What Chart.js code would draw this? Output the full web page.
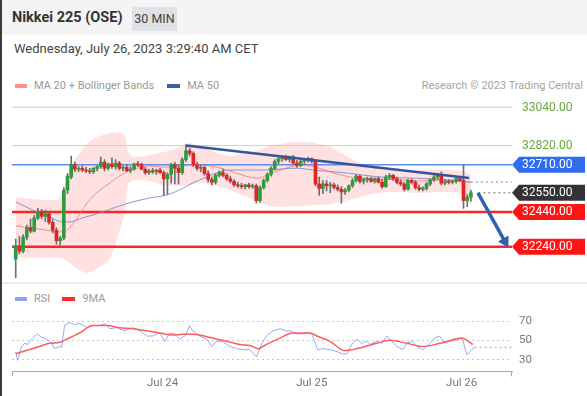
<!DOCTYPE html>
<html>
<head>
<meta charset="utf-8">
<title>Nikkei 225 (OSE)</title>
<script src="https://cdn.jsdelivr.net/npm/chart.js@4/dist/chart.umd.min.js"></script>
<style>
  html, body { margin: 0; padding: 0; background: #fff; }
  body { width: 587px; height: 396px; position: relative; overflow: hidden; font-family: Roboto, "Open Sans", sans-serif; }
  #frame { position: absolute; left: 0; top: 0; width: 2px; height: 396px; background: #3c3c3c; z-index: 3; }
  #head { position: absolute; left: 0; top: 0; width: 587px; height: 35px; background: #f4f4f4; }
  #title { position: absolute; left: 12px; top: 10px; font-size: 14.5px; line-height: 16px; font-weight: bold; color: #333; }
  #badge { position: absolute; left: 132px; top: 7px; width: 45px; height: 24px; line-height: 24px; background: #dfe2e6; color: #444; font-size: 12.5px; text-align: center; }
  #stamp { position: absolute; left: 14px; top: 41px; font-size: 13px; line-height: 16px; color: #444; }
  .legend { position: absolute; height: 12px; line-height: 12px; font-size: 11px; color: #9a9a9a; display: flex; align-items: center; white-space: nowrap; }
  .sw { display: inline-block; width: 12px; height: 4px; margin-right: 7px; }
  #credit { position: absolute; right: 4px; top: 80px; font-size: 11px; line-height: 12px; color: #a4a4a4; }
  #sep { position: absolute; left: 0; top: 282px; width: 587px; height: 2px; background: #e7ecef; }
  canvas { position: absolute; left: 0; }
  #priceChart { top: 90px; }
  #rsiChart { top: 283px; }
</style>
</head>
<body>
<div id="frame"></div>
<div id="head"><span id="title">Nikkei 225 (OSE)</span><span id="badge">30 MIN</span></div>
<div id="stamp">Wednesday, July 26, 2023 3:29:40 AM CET</div>
<div class="legend" style="left:15px;top:80px"><i class="sw" style="background:#ff8f8f"></i>MA 20 + Bollinger Bands<i class="sw" style="background:#3d5fa8;width:13px;margin-left:13px"></i>MA 50</div>
<div id="credit">Research © 2023 Trading Central</div>
<canvas id="priceChart" width="587" height="193"></canvas>
<div id="sep"></div>
<div class="legend" style="left:15px;top:293px"><i class="sw" style="background:#8aa6ee"></i>RSI<i class="sw" style="background:#ff2a2a;width:13px;margin-left:12px"></i>9MA</div>
<canvas id="rsiChart" width="587" height="113"></canvas>

<script>
// 30 min bars, index 0 = first bar on the left
const opens = [
  32170, 32245, 32215, 32295, 32350, 32330, 32405, 32440, 32415, 32430,
  32380, 32335, 32275, 32290, 32565, 32640, 32710, 32685, 32690, 32680,
  32675, 32670, 32690, 32700, 32725, 32690, 32715, 32700, 32720, 32690,
  32695, 32675, 32685, 32715, 32710, 32685, 32665, 32675, 32670, 32680,
  32665, 32630, 32655, 32710, 32690, 32665, 32740, 32790, 32775, 32710,
  32690, 32695, 32660, 32625, 32610, 32650, 32665, 32650, 32630, 32615,
  32595, 32590, 32585, 32595, 32585, 32590, 32505, 32580, 32620, 32655,
  32690, 32730, 32745, 32750, 32740, 32755, 32720, 32705, 32730, 32740,
  32745, 32730, 32600, 32575, 32600, 32590, 32595, 32580, 32570, 32555,
  32565, 32590, 32620, 32645, 32615, 32625, 32630, 32615, 32630, 32610,
  32585, 32640, 32650, 32630, 32610, 32600, 32570, 32620, 32610, 32580,
  32570, 32575, 32600, 32625, 32640, 32655, 32605, 32615, 32610, 32615,
  32630, 32620, 32505, 32525
];
const highs = [
  32285, 32300, 32310, 32365, 32400, 32420, 32460, 32455, 32450, 32440,
  32395, 32350, 32300, 32580, 32660, 32760, 32725, 32700, 32705, 32695,
  32690, 32695, 32705, 32755, 32740, 32720, 32750, 32740, 32730, 32705,
  32710, 32700, 32720, 32730, 32720, 32695, 32685, 32690, 32685, 32690,
  32675, 32665, 32720, 32725, 32710, 32750, 32825, 32805, 32785, 32725,
  32710, 32705, 32675, 32640, 32660, 32675, 32685, 32660, 32645, 32625,
  32610, 32605, 32600, 32605, 32600, 32600, 32590, 32630, 32665, 32700,
  32740, 32755, 32760, 32765, 32760, 32765, 32735, 32740, 32745, 32755,
  32750, 32735, 32640, 32620, 32620, 32610, 32605, 32595, 32585, 32575,
  32595, 32630, 32655, 32650, 32635, 32640, 32640, 32635, 32640, 32625,
  32650, 32660, 32655, 32640, 32625, 32610, 32630, 32630, 32620, 32595,
  32585, 32610, 32630, 32650, 32660, 32670, 32625, 32625, 32620, 32640,
  32640, 32710, 32540, 32565
];
const lows = [
  32063, 32200, 32205, 32280, 32320, 32325, 32395, 32400, 32385, 32370,
  32320, 32255, 32250, 32280, 32545, 32630, 32670, 32670, 32670, 32665,
  32660, 32660, 32675, 32690, 32675, 32680, 32690, 32685, 32680, 32675,
  32670, 32665, 32680, 32700, 32680, 32655, 32655, 32660, 32655, 32660,
  32535, 32540, 32605, 32600, 32600, 32655, 32730, 32760, 32700, 32680,
  32670, 32650, 32610, 32595, 32600, 32640, 32640, 32620, 32605, 32585,
  32580, 32575, 32570, 32575, 32575, 32490, 32495, 32570, 32610, 32645,
  32680, 32715, 32730, 32735, 32725, 32710, 32695, 32700, 32715, 32725,
  32720, 32590, 32535, 32545, 32560, 32550, 32570, 32560, 32490, 32540,
  32555, 32580, 32610, 32605, 32600, 32610, 32610, 32605, 32605, 32575,
  32580, 32625, 32620, 32600, 32590, 32560, 32565, 32600, 32570, 32560,
  32560, 32565, 32590, 32615, 32630, 32595, 32595, 32600, 32600, 32605,
  32615, 32460, 32470, 32500
];
const closes = [
  32245, 32215, 32295, 32350, 32330, 32405, 32440, 32415, 32430, 32380,
  32335, 32275, 32290, 32565, 32645, 32710, 32685, 32690, 32680, 32675,
  32670, 32690, 32700, 32725, 32690, 32715, 32700, 32720, 32690, 32695,
  32675, 32685, 32715, 32710, 32685, 32665, 32675, 32670, 32680, 32665,
  32630, 32655, 32710, 32690, 32665, 32740, 32790, 32775, 32710, 32690,
  32695, 32660, 32625, 32610, 32650, 32665, 32650, 32630, 32615, 32595,
  32590, 32585, 32595, 32585, 32590, 32505, 32580, 32620, 32655, 32690,
  32730, 32745, 32750, 32740, 32755, 32720, 32705, 32730, 32740, 32745,
  32730, 32600, 32575, 32600, 32590, 32595, 32580, 32570, 32555, 32565,
  32590, 32620, 32645, 32615, 32625, 32630, 32615, 32630, 32610, 32585,
  32640, 32650, 32630, 32610, 32600, 32570, 32620, 32610, 32580, 32570,
  32575, 32600, 32625, 32640, 32655, 32605, 32615, 32610, 32615, 32630,
  32620, 32505, 32525, 32550
];

// MA 20 + Bollinger Bands, read at these bar positions
const bandX = [0, 4, 8, 11, 13, 14.5, 17, 19.5, 22.5, 25.5, 28, 29.5, 30.5, 33, 36, 40, 44, 47, 50, 54,
  58, 62, 65.5, 68.5, 73, 77, 81, 85, 89, 93, 98, 104, 109, 115, 120, 123];
const bandUpper = [32526, 32514, 32509, 32509, 32566, 32680, 32771, 32834, 32874, 32891, 32897, 32874, 32783, 32754, 32766, 32783, 32806, 32834, 32817, 32783,
  32760, 32783, 32794, 32817, 32834, 32840, 32834, 32811, 32766, 32720, 32691, 32680, 32680, 32680, 32674, 32657];
const bandMid = [32360, 32349, 32337, 32326, 32326, 32349, 32417, 32497, 32560, 32606, 32646, 32663, 32680, 32691, 32703, 32697, 32697, 32709, 32709, 32697,
  32674, 32646, 32634, 32657, 32691, 32709, 32697, 32669, 32646, 32634, 32629, 32623, 32617, 32623, 32623, 32606];
const bandLower = [32183, 32177, 32177, 32177, 32171, 32149, 32109, 32091, 32120, 32177, 32326, 32440, 32606, 32623, 32617, 32594, 32589, 32594, 32606, 32589,
  32566, 32531, 32497, 32474, 32469, 32474, 32480, 32486, 32503, 32526, 32549, 32554, 32549, 32554, 32549, 32520];

// MA 50
const ma50X = [0, 4.6, 9.2, 12.7, 14.6, 18.1, 22.7, 27.3, 31.6, 36.2, 40.8, 44.3, 47.8, 51.6, 55.1, 58.6, 63.2, 66.8, 76, 80.3, 89.5, 98.4, 107.3, 116.5, 123];
const ma50 = [32497, 32451, 32411, 32383, 32383, 32406, 32434, 32469, 32497, 32520, 32537, 32566, 32606, 32640, 32669, 32680, 32680, 32680, 32691, 32680, 32663, 32640, 32634, 32623, 32611];

// key levels (right side labels)
const levels = [33040, 32820, 32710, 32550, 32440, 32240];
const levelKinds = ['resistance', 'resistance', 'pivot', 'last', 'support', 'support'];

// drawn trend line and target arrow
const trendX = [46, 122.5];
const trendY = [32820, 32635];
const arrowX = [124.9, 132.2];
const arrowY = [32549, 32270];

// RSI panel
const rsiX = [0, 0.5, 1.6, 2.4, 3.2, 4.3, 5.7, 7, 8.4, 9.7, 10.5, 11.9, 12.4, 13.2, 14.6, 15.9, 17.3, 19.2, 20.8, 22.7,
  24.1, 25.4, 27.3, 29.5, 31.6, 33.5, 35.4, 37, 38.9, 40.3, 41.6, 43, 44.3, 45.7, 47, 47.8, 49.7, 51.6, 53, 54.3,
  55.9, 57.8, 59.7, 61.4, 63.2, 65.1, 66.5, 67.8, 69.5, 71.4, 73.2, 74.1, 75.9, 77.6, 78.9, 80, 81.6, 83, 84.9, 86.8,
  88.4, 89.5, 90.8, 92.2, 93.5, 94.9, 95.7, 97.6, 98.9, 100.3, 101.6, 103, 104.6, 105.7, 107, 108.4, 110, 111.9, 113.2, 114.6,
  115.4, 116.8, 118.1, 119.2, 120, 120.8, 121.9, 123.2, 124];
const rsi = [38.5, 29.6, 43.9, 47.1, 46, 51.4, 56.8, 53.5, 51.4, 47.1, 41.7, 43.9, 42.8, 65.4, 68.6, 66.5, 67.5, 63.2, 65.4, 65.4,
  67.5, 62.2, 63.2, 60, 63.2, 60, 54.6, 54.6, 57.8, 49.2, 57.8, 56.8, 51.4, 54.6, 65.4, 60, 54.6, 51.4, 43.9, 49.2,
  49.2, 43.9, 41.7, 40.6, 40.6, 33.1, 47.1, 54.6, 60, 62.2, 60, 60, 56.8, 56.8, 57.8, 56.8, 40.6, 41.7, 40.6, 38.5,
  36.3, 36.3, 46, 51.4, 47.1, 49.2, 46, 49.2, 47.1, 54.6, 49.2, 43.9, 40.6, 47.1, 49.2, 43.9, 40.6, 47.1, 52.5, 54.6,
  49.2, 49.2, 51.4, 52.5, 52.5, 50.3, 35.3, 40.6, 42.8];
const ma9X = [0, 4.6, 9.2, 11.9, 13.8, 17.3, 20.8, 24.6, 28.1, 31.6, 35.4, 38.9, 42.4, 46.2, 49.7, 53.2, 57, 60.5, 64.1, 65.4,
  67.8, 71.4, 74.9, 79.5, 81.4, 84.9, 88.9, 92.2, 97.6, 101.1, 105.7, 110, 114.6, 119.2, 120.5, 123.5];
const ma9 = [36.3, 41.7, 47.1, 48.2, 51.4, 57.8, 65.4, 65.4, 63.2, 62.2, 60, 57.8, 55.7, 56.8, 55.7, 52.5, 49.2, 46, 43.9, 41.5,
  46, 52.5, 57.8, 57.8, 54.6, 49.2, 39.6, 41.7, 47.1, 50.3, 47.1, 43.9, 47.1, 51.4, 52.5, 46];
const rsiTicks = [30, 50, 70];

// time axis
const dayTicks = [39.7, 80, 120.5];
const dayLabels = ['Jul 24', 'Jul 25', 'Jul 26'];

Chart.defaults.font.family = 'Roboto, "Open Sans", sans-serif';
Chart.defaults.animation = false;

const xMin = -1, xMax = 134.1;
const green = '#2e9c3c', red = '#e02323';
const levelStyle = {
  resistance: { line: '#bedd9f', width: 1, text: '#6aa842' },
  pivot: { line: '#5b8ef0', width: 1.5, tag: '#2f6cf0' },
  last: { line: '#9c9c9c', width: 1.5, dash: [2, 3], tag: '#333333' },
  support: { line: '#ff2424', width: 2.5, tag: '#ff1414' }
};

const pts = (xs, ys) => xs.map((x, i) => ({ x: x, y: ys[i] }));

function line(data, color, width, extra) {
  return Object.assign({
    type: 'line', data: data, borderColor: color, borderWidth: width,
    pointRadius: 0, fill: false, tension: 0
  }, extra || {});
}

function axisX(show) {
  return {
    type: 'linear', min: xMin, max: xMax, offset: false, display: show,
    grid: { display: false, drawTicks: false, offset: false },
    border: { display: show, color: '#a8a8a8' },
    afterBuildTicks: s => { s.ticks = dayTicks.map(v => ({ value: v })); },
    afterFit: s => { if (show) s.height = 24.6; },
    ticks: {
      color: '#777', font: { size: 11.5 }, padding: 5, maxRotation: 0, autoSkip: false,
      callback: (v, i) => dayLabels[i]
    }
  };
}

const idx = closes.map((_, i) => i);

const levelSets = levels.map((v, i) => {
  const st = levelStyle[levelKinds[i]];
  const from = levelKinds[i] === 'last' ? closes.length + 1 : xMin;
  return line([{ x: from, y: v }, { x: xMax, y: v }], st.line, st.width, { borderDash: st.dash || [], order: 6 });
});

const levelTags = {
  id: 'levelTags',
  afterDatasetsDraw(chart) {
    const { ctx, chartArea, scales } = chart;
    const x0 = chartArea.right;
    ctx.save();
    ctx.font = '12px Roboto, "Open Sans", sans-serif';
    ctx.textBaseline = 'middle';
    levels.forEach((v, i) => {
      const st = levelStyle[levelKinds[i]];
      const y = scales.y.getPixelForValue(v);
      if (st.tag) {
        ctx.fillStyle = st.tag;
        ctx.beginPath();
        ctx.moveTo(x0, y);
        ctx.lineTo(x0 + 7, y - 8);
        ctx.lineTo(585, y - 8);
        ctx.lineTo(585, y + 8);
        ctx.lineTo(x0 + 7, y + 8);
        ctx.closePath();
        ctx.fill();
        ctx.fillStyle = '#fff';
      } else {
        ctx.fillStyle = st.text;
      }
      ctx.fillText(v.toFixed(2), x0 + 10, y + 0.5);
    });
    ctx.restore();
  }
};

new Chart(document.getElementById('priceChart'), {
  type: 'bar',
  data: {
    datasets: [
      line(pts(arrowX, arrowY), '#2d64b0', 3.5, {
        order: 0, pointRadius: [0, 7], pointStyle: 'triangle', pointRotation: [0, 151],
        pointBackgroundColor: '#2d64b0', pointBorderWidth: 0
      }),
      line(pts(trendX, trendY), '#34559c', 2.5, { order: 1 }),
      {
        type: 'bar', order: 2, grouped: false, barThickness: 3, minBarLength: 1,
        data: idx.map(i => ({ x: i, y: [opens[i], closes[i]] })),
        backgroundColor: idx.map(i => closes[i] >= opens[i] ? green : red)
      },
      {
        type: 'bar', order: 3, grouped: false, barThickness: 1,
        data: idx.map(i => ({ x: i, y: [lows[i], highs[i]] })),
        backgroundColor: '#6f6f6f'
      },
      line(pts(bandX, bandMid), 'rgba(240,118,118,0.8)', 1, { order: 4, cubicInterpolationMode: 'monotone' }),
      line(pts(ma50X, ma50), 'rgba(118,145,205,0.9)', 1, { order: 5, cubicInterpolationMode: 'monotone' }),
      line([{ x: ma50X[ma50X.length - 1], y: ma50[ma50.length - 1] }, { x: xMax, y: ma50[ma50.length - 1] }],
        '#9db3e6', 1.5, { order: 6, borderDash: [2, 3] }),
      ...levelSets,
      line(pts(bandX, bandUpper), 'rgba(0,0,0,0)', 0, {
        order: 8, cubicInterpolationMode: 'monotone', fill: '+1', backgroundColor: 'rgba(255,120,120,0.22)'
      }),
      line(pts(bandX, bandLower), 'rgba(0,0,0,0)', 0, { order: 9, cubicInterpolationMode: 'monotone' })
    ]
  },
  options: {
    responsive: false, devicePixelRatio: 1, events: [],
    layout: { autoPadding: false, padding: { left: 12, right: 75, top: 5, bottom: 3 } },
    plugins: { legend: { display: false }, tooltip: { enabled: false } },
    scales: {
      x: axisX(false),
      y: { display: false, min: 32050, max: 33110 }
    }
  },
  plugins: [levelTags]
});

const axisEnds = {
  id: 'axisEnds',
  afterDraw(chart) {
    const { ctx, chartArea } = chart;
    ctx.save();
    ctx.strokeStyle = '#a8a8a8';
    ctx.lineWidth = 1;
    ctx.beginPath();
    [chartArea.left + 0.5, chartArea.right - 0.5].forEach(x => {
      ctx.moveTo(x, chartArea.bottom);
      ctx.lineTo(x, chartArea.bottom + 5);
    });
    ctx.stroke();
    ctx.restore();
  }
};

new Chart(document.getElementById('rsiChart'), {
  type: 'line',
  data: {
    datasets: [
      line(pts(ma9X, ma9), '#ff5c5c', 1.5, { order: 0, cubicInterpolationMode: 'monotone' }),
      line(pts(rsiX, rsi), '#93abf0', 1, { order: 1 }),
      line([{ x: rsiX[rsiX.length - 1], y: rsi[rsi.length - 1] }, { x: xMax, y: rsi[rsi.length - 1] }],
        '#a9bdf2', 1.5, { order: 2, borderDash: [2, 3] })
    ]
  },
  options: {
    responsive: false, devicePixelRatio: 1, events: [],
    layout: { autoPadding: false, padding: { left: 12, right: 0, top: 28, bottom: 0 } },
    plugins: { legend: { display: false }, tooltip: { enabled: false } },
    scales: {
      x: axisX(true),
      y: {
        position: 'right', min: 18.2, max: 80.4,
        afterBuildTicks: s => { s.ticks = rsiTicks.map(v => ({ value: v })); },
        afterFit: s => { s.width = 75; },
        grid: { color: '#c8c8c8', drawTicks: false },
        border: { display: false, dash: [2, 3] },
        ticks: { color: '#777', font: { size: 11.5 }, padding: 7 }
      }
    }
  },
  plugins: [axisEnds]
});
</script>
</body>
</html>
